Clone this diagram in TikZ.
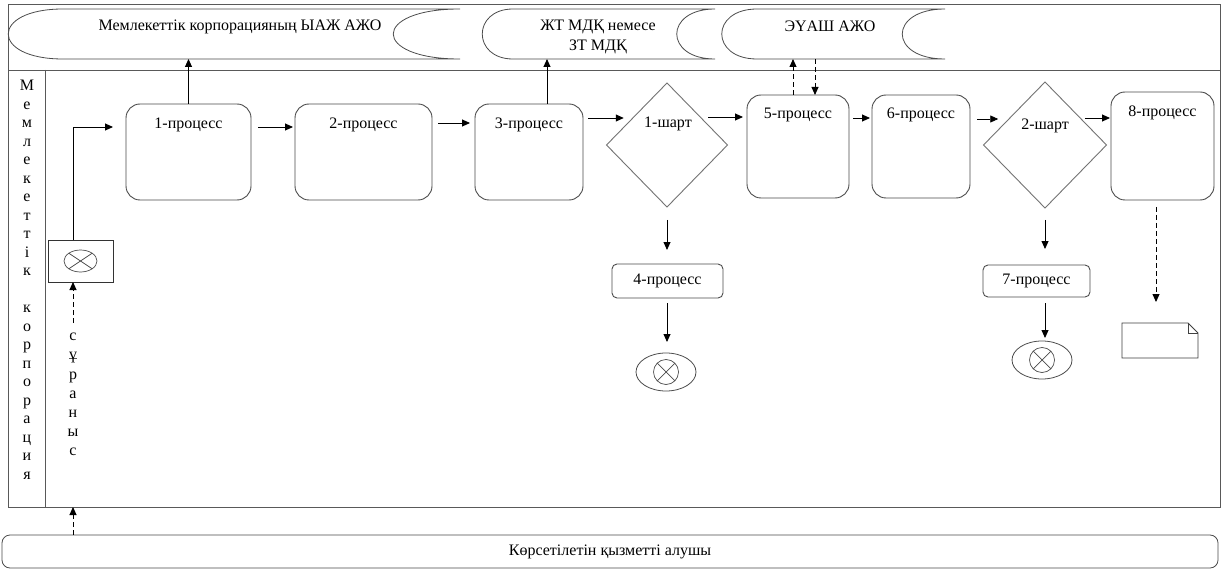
\documentclass[tikz,border=0pt]{standalone}
\usepackage{fontspec}
\setmainfont{Liberation Serif}
\usetikzlibrary{arrows.meta,shapes.geometric,calc}
\begin{document}
\begin{tikzpicture}[x=1pt,y=-1pt,
  font=\fontsize{16}{19}\selectfont,
  frameline/.style={draw=black!65, line width=0.9pt},
  proc/.style={draw=black!70, line width=0.9pt, rounded corners=14pt, anchor=north west, inner sep=0pt, outer sep=0pt},
  smallproc/.style={draw=black!70, line width=0.9pt, rounded corners=5pt, anchor=north west, inner sep=0pt, outer sep=0pt},
  cond/.style={diamond, draw=black!55, line width=0.9pt, inner sep=0pt, outer sep=0pt},
  endev/.style={ellipse, draw=black!70, line width=0.8pt, inner sep=0pt, outer sep=0pt, minimum width=60pt, minimum height=38pt},
  store/.style={draw=black!70, line width=0.8pt},
  txt/.style={inner sep=0pt},
  arr/.style={-{Triangle[length=8pt,width=7pt]}, line width=0.9pt, black},
  darr/.style={arr, dash pattern=on 5pt off 3pt}
]
\useasboundingbox (0,0) rectangle (1222,569);
\fill[white] (0,0) rectangle (1222,569);

% frame
\draw[frameline] (8,4) rectangle (1220,507);
\draw[frameline] (8,70) -- (1220,70);
\draw[frameline] (45,70) -- (45,507);

% top lane stores
\draw[store] (63,9) -- (460,9) .. controls (371,9) and (371,59) .. (460,59) -- (63,59) .. controls (-10,59) and (-10,9) .. (63,9) -- cycle;
\draw[store] (513,9) -- (715,9) .. controls (664,9) and (664,59) .. (715,59) -- (513,59) .. controls (472,59) and (472,9) .. (513,9) -- cycle;
\draw[store] (757,9) -- (945,9) .. controls (888,9) and (888,59) .. (945,59) -- (757,59) .. controls (710,59) and (710,9) .. (757,9) -- cycle;
\node[txt] (ts1) at (240,27) {Мемлекеттік корпорацияның ЫАЖ АЖО};
\node[txt, align=center, font=\fontsize{16}{20}\selectfont] (ts2) at (598,37) {ЖТ МДҚ немесе\\ЗТ МДҚ};
\node[txt] (ts3) at (830,26) {ЭҮАШ АЖО};
\coordinate (s1b) at (188.5,59);
\coordinate (s2b) at (547,59);
\coordinate (s3up) at (793,59);
\coordinate (s3dn) at (815,59);

% lane label
\node[txt, align=center, font=\fontsize{16}{18.5}\selectfont, anchor=north] (lane) at (27,80)
 {М\\е\\м\\л\\е\\к\\е\\т\\т\\і\\к\\~\\к\\о\\р\\п\\о\\р\\а\\ц\\и\\я};

% start
\node[draw=black!80, line width=0.9pt, minimum width=65pt, minimum height=42pt, inner sep=0pt, outer sep=0pt] (start) at (80.5,261) {};
\draw[line width=0.7pt, black!70] (start.center) ellipse [x radius=16.5, y radius=11];
\draw[line width=0.7pt, black!70] ($(start.center)+(-11.7,-7.8)$) -- ($(start.center)+(11.7,7.8)$);
\draw[line width=0.7pt, black!70] ($(start.center)+(-11.7,7.8)$) -- ($(start.center)+(11.7,-7.8)$);
\node[txt, align=center, font=\fontsize{16}{19.2}\selectfont, anchor=north] (sur) at (73,333) {с\\ұ\\р\\а\\н\\ы\\с};

% processes
\node[proc, minimum width=125pt, minimum height=96pt] (p1) at (126,104) {};
\node[proc, minimum width=137pt, minimum height=96pt] (p2) at (295,104) {};
\node[proc, minimum width=108pt, minimum height=96pt] (p3) at (475,104) {};
\node[proc, minimum width=102pt, minimum height=103pt] (p5) at (747,95) {};
\node[proc, minimum width=98pt, minimum height=103pt] (p6) at (872,95) {};
\node[proc, minimum width=103pt, minimum height=108pt] (p8) at (1111,92) {};
\node[smallproc, minimum width=111pt, minimum height=34pt] (p4) at (612,264) {};
\node[smallproc, minimum width=107pt, minimum height=32pt] (p7) at (983,265) {};
\node[cond, minimum width=121pt, minimum height=124pt] (d1) at (667,145) {};
\node[cond, minimum width=123pt, minimum height=126pt] (d2) at (1045,145) {};

\node[txt] (t1) at ([yshift=-21pt]p1.north) {1-процесс};
\node[txt] (t2) at ([yshift=-21pt]p2.north) {2-процесс};
\node[txt] (t3) at ([yshift=-21pt]p3.north) {3-процесс};
\node[txt] (t5) at ([yshift=-20pt]p5.north) {5-процесс};
\node[txt] (t6) at ([yshift=-20pt]p6.north) {6-процесс};
\node[txt] (t8) at ([yshift=-21pt]p8.north) {8-процесс};
\node[txt] (t4) at (p4.center) {4-процесс};
\node[txt] (t7) at (p7.center) {7-процесс};
\node[txt] (c1) at (668,124) {1-шарт};
\node[txt] (c2) at (1045,126) {2-шарт};

% end events
\node[endev] (e1) at (666,372) {};
\node[endev] (e2) at (1042,360) {};
\foreach \e in {e1,e2}{
  \draw[line width=0.7pt, black!70] (\e.center) circle (12.5);
  \draw[line width=0.7pt, black!70] ($(\e.center)+(-8.8,-8.8)$) -- ($(\e.center)+(8.8,8.8)$);
  \draw[line width=0.7pt, black!70] ($(\e.center)+(-8.8,8.8)$) -- ($(\e.center)+(8.8,-8.8)$);
}

% document
\node[minimum width=76pt, minimum height=35pt, anchor=north west, inner sep=0pt, outer sep=0pt] (doc) at (1122,323) {};
\draw[line width=0.8pt, black!75] (doc.north west) -- ([xshift=-10pt]doc.north east) -- ([yshift=-10pt]doc.north east) -- (doc.south east) -- (doc.south west) -- cycle;
\draw[line width=0.8pt, black!75] ([xshift=-10pt]doc.north east) -- ([xshift=-10pt,yshift=-10pt]doc.north east) -- ([yshift=-10pt]doc.north east);

% receiver
\node[draw=black!70, line width=0.8pt, rounded corners=8pt, minimum width=1216pt, minimum height=33pt, anchor=north west, inner sep=0pt, outer sep=0pt] (recv) at (2,535) {Көрсетілетін қызметті алушы};
\coordinate (lanebot) at (73,507);

% connectors
\draw[darr] (recv.north -| lanebot) -- (lanebot);
\draw[darr, shorten <=10pt] (sur.north) -- (start.south -| sur.north);
\draw[arr, shorten >=13pt] (start.north -| sur.north) |- (p1.west |- 0,127);
\draw[arr, shorten <=7pt, shorten >=2pt] (p1.east |- 0,127) -- (p2.west |- 0,127);
\draw[arr, shorten <=6pt, shorten >=5pt] (p2.east |- 0,123) -- (p3.west |- 0,123);
\draw[arr, shorten <=5pt, shorten >=13pt] (p3.east |- 0,118) -- (d1.north west |- 0,118);
\draw[arr, shorten <=11pt, shorten >=4pt] (d1.north east |- 0,117) -- (p5.west |- 0,117);
\draw[arr, shorten <=4pt, shorten >=2pt] (p5.east |- 0,118) -- (p6.west |- 0,118);
\draw[arr, shorten <=7pt, shorten >=16pt] (p6.east |- 0,119) -- (d2.north west |- 0,119);
\draw[arr, shorten <=9pt, shorten >=1pt] (d2.north east |- 0,118) -- (p8.west |- 0,118);
\draw[arr] (p1.north) -- (s1b);
\draw[arr] (p3.north -| s2b) -- (s2b);
\draw[darr] (p5.north -| s3up) -- (s3up);
\draw[darr] (s3dn) -- (p5.north -| s3dn);
\draw[arr, shorten <=13pt, shorten >=14pt] (d1.south) -- (p4.north -| d1.south);
\draw[arr, shorten <=5pt, shorten >=11pt] (p4.south -| d1.south) -- (e1.north -| d1.south);
\draw[arr, shorten <=12pt, shorten >=16pt] (d2.south) -- (p7.north -| d2.south);
\draw[arr, shorten <=6pt, shorten >=3pt] (p7.south -| d2.south) -- (e2.north -| d2.south);
\draw[darr, shorten <=7pt, shorten >=21pt] (p8.south -| 1156,0) -- (doc.north -| 1156,0);
\end{tikzpicture}
\end{document}
